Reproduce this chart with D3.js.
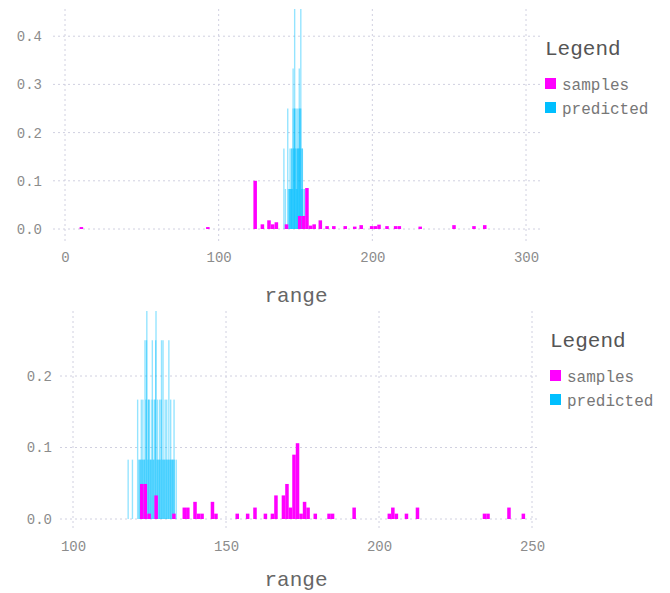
<!DOCTYPE html>
<html>
<head>
<meta charset="utf-8">
<script src="https://cdn.jsdelivr.net/npm/d3@7"></script>
<style>
  body { margin: 0; background: #fff; }
  svg text { font-family: "Liberation Mono", "DejaVu Sans Mono", monospace; }
</style>
</head>
<body>
<div id="chart"></div>
<script>
var width = 670;
var height = 593;

// ---- data: top panel ----
var topSampleWidth = 2.3;
var topSampleX = [9.5, 91.8, 122.6, 127.3, 131.6, 134.0, 136.4, 143.0, 151.6, 154.0, 156.3,
    158.7, 161.0, 165.0, 169.4, 173.8, 181.2, 187.4, 191.6, 198.4, 200.8, 203.2, 208.4,
    214.0, 216.4, 230.0, 252.0, 265.0, 272.0];
var topSampleH = [0.004, 0.004, 0.1, 0.0097, 0.018, 0.0097, 0.014, 0.0097, 0.027, 0.027, 0.085,
    0.007, 0.0097, 0.018, 0.006, 0.006, 0.006, 0.005, 0.008, 0.006, 0.006, 0.009, 0.006,
    0.006, 0.006, 0.005, 0.008, 0.006, 0.008];

var topPredWidth = 0.9;
var topPredX = [142.0, 143.0, 144.5, 145.5, 155.5,
    146.0, 147.0, 148.0, 149.0, 150.0, 151.0, 152.0, 153.0, 154.0, 155.0,
    145.0, 146.0, 147.0, 148.0, 149.0, 150.0, 151.0, 152.0, 153.0, 154.0,
    146.0, 147.0, 148.0, 149.0, 150.0, 151.0, 152.0, 153.0, 154.0,
    146.5, 147.5, 148.5, 149.5, 150.5, 151.5, 152.5, 153.5];
var topPredH = [0.167, 0.083, 0.25, 0.083, 0.083,
    0.083, 0.167, 0.25, 0.5, 0.25, 0.167, 0.333, 0.5, 0.167, 0.083,
    0.083, 0.167, 0.083, 0.333, 0.25, 0.167, 0.25, 0.25, 0.167, 0.083,
    0.083, 0.167, 0.167, 0.25, 0.083, 0.167, 0.167, 0.25, 0.167,
    0.083, 0.083, 0.167, 0.167, 0.083, 0.167, 0.25, 0.083];

// ---- data: bottom panel ----
var botSampleWidth = 1.15;
var botSampleX = [121.9, 123.05, 124.3, 126.6, 132.4, 135.8, 136.95, 139.3, 140.45, 141.6,
    145.0, 146.15, 153.1, 156.5, 158.9, 162.3, 164.6, 165.75, 168.2, 169.35, 170.5, 171.65,
    172.8, 173.95, 175.1, 176.25, 178.6, 183.1, 184.25, 191.3, 202.8, 203.95, 205.1,
    208.4, 212.0, 233.9, 235.05, 241.9, 246.6];
var botSampleH = [0.049, 0.049, 0.0075, 0.033, 0.0075, 0.016, 0.016, 0.024, 0.0075, 0.0075,
    0.024, 0.0075, 0.0075, 0.0075, 0.016, 0.0075, 0.0075, 0.033, 0.033, 0.049, 0.016, 0.09,
    0.106, 0.0075, 0.024, 0.016, 0.0075, 0.0075, 0.0075, 0.016, 0.0075, 0.016, 0.0075,
    0.0075, 0.016, 0.0075, 0.0075, 0.016, 0.0075];

var botPredWidth = 0.45;
var botPredX = [117.8, 119.2, 120.9, 121.3,
    121.5, 122.1, 122.7, 123.3, 123.9, 124.5, 125.1, 125.7, 126.3, 126.9, 127.5, 128.1,
    128.7, 129.3, 129.9, 130.5, 131.1, 131.7, 132.3, 132.9, 133.5,
    122.0, 122.6, 123.2, 123.8, 124.4, 125.0, 125.6, 126.2, 126.8, 127.4, 128.0, 128.6,
    129.2, 129.8, 130.4, 131.0, 131.6, 132.2, 132.8,
    121.8, 122.4, 123.0, 123.6, 124.2, 124.8, 125.4, 126.0, 126.6, 127.2, 127.8, 128.4,
    129.0, 129.6, 130.2, 130.8, 131.4, 132.0, 132.6];
var botPredH = [0.083, 0.083, 0.167, 0.083,
    0.083, 0.167, 0.083, 0.25, 0.333, 0.167, 0.083, 0.25, 0.167, 0.333, 0.083, 0.167,
    0.25, 0.083, 0.167, 0.083, 0.25, 0.167, 0.083, 0.083, 0.083,
    0.083, 0.167, 0.083, 0.25, 0.167, 0.083, 0.167, 0.083, 0.25, 0.167, 0.083, 0.167,
    0.25, 0.083, 0.167, 0.083, 0.083, 0.083, 0.167,
    0.083, 0.083, 0.083, 0.167, 0.083, 0.167, 0.083, 0.083, 0.167, 0.083, 0.083, 0.083,
    0.083, 0.083, 0.083, 0.083, 0.083, 0.083, 0.083];

var legendNames = ["samples", "predicted"];
var colors = { samples: "#ff00ff", predicted: "#00bfff" };

var svg = d3.select("#chart").append("svg")
    .attr("width", width)
    .attr("height", height);

function zip(xs, hs) {
    return xs.map(function (x, i) { return { x: x, h: hs[i] }; });
}

function drawPanel(p) {
    var x = d3.scaleLinear().domain(p.xDomain).range(p.xRange);
    var y = d3.scaleLinear().domain(p.yDomain).range(p.yRange);

    var g = svg.append("g");

    // clip to the plot area
    g.append("clipPath").attr("id", p.id + "-clip")
        .append("rect")
        .attr("x", p.box[0]).attr("y", p.box[1])
        .attr("width", p.box[2] - p.box[0]).attr("height", p.box[3] - p.box[1]);

    // gridlines
    g.append("g").selectAll("line")
        .data(p.xTicks).enter().append("line")
        .attr("x1", function (d) { return x(d); })
        .attr("x2", function (d) { return x(d); })
        .attr("y1", p.box[1]).attr("y2", p.box[3])
        .attr("stroke", "#d0d0e0").attr("stroke-width", 1).attr("stroke-dasharray", "2,3");
    g.append("g").selectAll("line")
        .data(p.yTicks).enter().append("line")
        .attr("y1", function (d) { return y(d); })
        .attr("y2", function (d) { return y(d); })
        .attr("x1", p.box[0]).attr("x2", p.box[2])
        .attr("stroke", "#d0d0e0").attr("stroke-width", 1).attr("stroke-dasharray", "2,3");

    var bars = g.append("g").attr("clip-path", "url(#" + p.id + "-clip)");

    // predicted (drawn first, translucent)
    bars.append("g").selectAll("rect")
        .data(zip(p.predX, p.predH)).enter().append("rect")
        .attr("x", function (d) { return x(d.x); })
        .attr("width", function (d) { return x(d.x + p.predW) - x(d.x); })
        .attr("y", function (d) { return y(d.h); })
        .attr("height", function (d) { return y(0) - y(d.h); })
        .attr("fill", colors.predicted)
        .attr("fill-opacity", 0.42);

    // samples
    bars.append("g").selectAll("rect")
        .data(zip(p.sampleX, p.sampleH)).enter().append("rect")
        .attr("x", function (d) { return x(d.x); })
        .attr("width", function (d) { return x(d.x + p.sampleW) - x(d.x); })
        .attr("y", function (d) { return y(d.h); })
        .attr("height", function (d) { return y(0) - y(d.h); })
        .attr("fill", colors.samples);

    // axes (labels only)
    var xAxis = g.append("g")
        .attr("transform", "translate(0," + p.box[3] + ")")
        .call(d3.axisBottom(x).tickValues(p.xTicks).tickSize(0).tickPadding(p.xPad).tickFormat(d3.format("d")));
    var yAxis = g.append("g")
        .attr("transform", "translate(" + p.box[0] + ",0)")
        .call(d3.axisLeft(y).tickValues(p.yTicks).tickSize(0).tickPadding(p.yPad).tickFormat(d3.format(".1f")));
    [xAxis, yAxis].forEach(function (a) {
        a.select(".domain").remove();
        a.selectAll("text")
            .style("font-family", '"Liberation Mono", "DejaVu Sans Mono", monospace')
            .style("font-size", "14px")
            .attr("fill", "#8c8c8c");
    });

    // x axis title
    g.append("text")
        .attr("x", p.titleX).attr("y", p.titleY)
        .attr("text-anchor", "middle")
        .style("font-size", "21px")
        .attr("fill", "#666")
        .text("range");

    // legend
    var lg = g.append("g").attr("transform", "translate(" + p.legend[0] + "," + p.legend[1] + ")");
    lg.append("text")
        .attr("x", 0).attr("y", 0)
        .style("font-size", "21px")
        .attr("fill", "#555")
        .text("Legend");
    lg.selectAll("rect.key")
        .data(legendNames).enter().append("rect")
        .attr("class", "key")
        .attr("x", 0)
        .attr("y", function (d, i) { return p.legendGap0 + i * p.legendGap - 6; })
        .attr("width", 11).attr("height", 11)
        .attr("fill", function (d) { return colors[d]; });
    lg.selectAll("text.key")
        .data(legendNames).enter().append("text")
        .attr("class", "key")
        .attr("x", 17)
        .attr("y", function (d, i) { return p.legendGap0 + i * p.legendGap; })
        .attr("dy", "0.35em")
        .style("font-size", "16px")
        .attr("fill", "#777")
        .text(function (d) { return d; });
}

drawPanel({
    id: "top",
    xDomain: [0, 300], xRange: [65, 526],
    yDomain: [0, 0.4], yRange: [229, 36.2],
    box: [53, 9, 540, 241],
    xTicks: [0, 100, 200, 300], yTicks: [0, 0.1, 0.2, 0.3, 0.4],
    xPad: 11, yPad: 11,
    sampleX: topSampleX, sampleH: topSampleH, sampleW: topSampleWidth,
    predX: topPredX, predH: topPredH, predW: topPredWidth,
    titleX: 296, titleY: 302,
    legend: [545, 55], legendGap0: 29, legendGap: 24
});

drawPanel({
    id: "bot",
    xDomain: [100, 250], xRange: [73, 532],
    yDomain: [0, 0.2], yRange: [519, 376],
    box: [60, 311, 540, 530],
    xTicks: [100, 150, 200, 250], yTicks: [0, 0.1, 0.2],
    xPad: 11, yPad: 8,
    sampleX: botSampleX, sampleH: botSampleH, sampleW: botSampleWidth,
    predX: botPredX, predH: botPredH, predW: botPredWidth,
    titleX: 296, titleY: 586,
    legend: [550, 347], legendGap0: 29, legendGap: 24
});
</script>
</body>
</html>
